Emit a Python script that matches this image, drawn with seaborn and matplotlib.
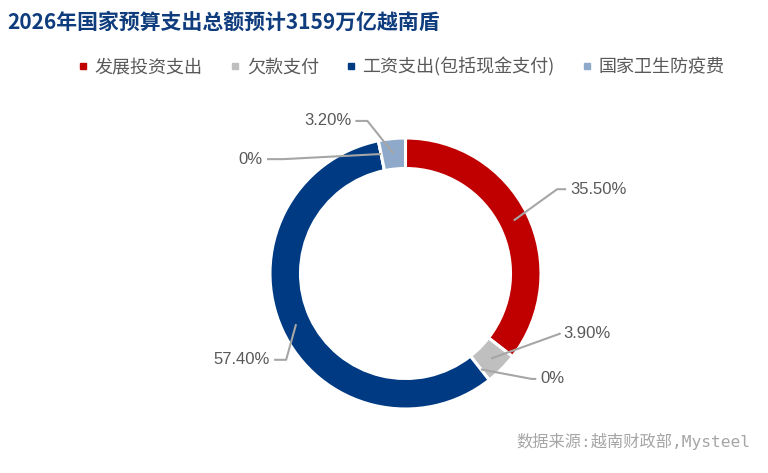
import matplotlib
matplotlib.use("Agg")
import matplotlib.pyplot as plt
from matplotlib.lines import Line2D
import numpy as np
import seaborn as sns

# ---------------- data ----------------
title = "2026年国家预算支出总额预计3159万亿越南盾"
source = "数据来源:越南财政部,Mysteel"
slice_names = ["发展投资支出", "欠款支付", "", "工资支出(包括现金支付)", "", "国家卫生防疫费"]
slice_values = [35.50, 3.90, 0.0, 57.40, 0.0, 3.20]
slice_labels = ["35.50%", "3.90%", "0%", "57.40%", "0%", "3.20%"]
legend_names = ["发展投资支出", "欠款支付", "工资支出(包括现金支付)", "国家卫生防疫费"]
legend_colors = ["#C00000", "#BFBFBF", "#003A82", "#8EA9C9"]
slice_colors = ["#C00000", "#BFBFBF", "#FFFFFF", "#003A82", "#FFFFFF", "#8EA9C9"]

# label layout (text anchor, elbow, side) in pie-radius units
label_text_pos = [(1.215, 0.622), (1.165, -0.444), (0.995, -0.778),
                  (-1.0, -0.637), (-1.052, 0.844), (-0.40, 1.126)]
label_elbow = [(1.119, 0.622), (1.140, -0.444), (0.93, -0.778),
               (-0.881, -0.637), (-0.90, 0.844), (-0.281, 1.126)]
label_ha = ["left", "left", "left", "right", "right", "right"]

sns.set_theme(style="white")
plt.rcParams["font.family"] = ["Noto Sans CJK SC", "DejaVu Sans"]

fig = plt.figure(figsize=(7.68, 4.73), dpi=100)
ax = fig.add_axes([270 / 768, 1 - 409 / 473, 271 / 768, 271 / 473])

wedges, _ = ax.pie(slice_values, colors=slice_colors, startangle=90, counterclock=False,
                   radius=1.0, wedgeprops=dict(width=0.225, edgecolor="white", linewidth=2.2))
ax.set_xlim(-1, 1)
ax.set_ylim(-1, 1)
ax.set_aspect("auto")
ax.axis("off")

# label lines
line_color = "#A6A6A6"
text_color = "#595959"
cum = np.cumsum([0] + slice_values)
total = sum(slice_values)
for i, lab in enumerate(slice_labels):
    if slice_values[i] > 0:
        frac = (cum[i] + slice_values[i] / 2) / total
        r = 0.89
    else:
        frac = cum[i] / total
        r = 0.90
    ang = np.deg2rad(90 - frac * 360)
    p0 = (r * np.cos(ang), r * np.sin(ang))
    tx, ty = label_text_pos[i]
    ex, ey = label_elbow[i]
    gap = 0.03 if label_ha[i] == "left" else -0.03
    ax.plot([p0[0], ex, tx - gap], [p0[1], ey, ty], color=line_color, lw=1.5,
            clip_on=False, solid_capstyle="butt", zorder=1)
    ax.text(tx, ty, lab, ha=label_ha[i], va="center", fontsize=12, color=text_color,
            family=["Liberation Sans", "DejaVu Sans"], clip_on=False)

# title
fig.text(0.010, 0.953, title, ha="left", va="center", fontsize=15, fontweight="bold",
         color="#0F3C7D")

# legend
handles = [Line2D([0], [0], marker="s", linestyle="none", markersize=5,
                  markerfacecolor=c, markeredgecolor=c) for c in legend_colors]
leg = fig.legend(handles, legend_names, loc="center", bbox_to_anchor=(0.523, 0.858), ncol=4,
                 frameon=False, handlelength=0.5, handletextpad=0.4, columnspacing=1.53,
                 fontsize=13)
for t in leg.get_texts():
    t.set_color(text_color)

# source
fig.text(0.977, 0.066, source, ha="right", va="center", fontsize=11.7, color="#A6A6A6",
         family=["DejaVu Sans Mono", "Noto Sans CJK SC"])

fig.savefig("out.png", dpi=100)
